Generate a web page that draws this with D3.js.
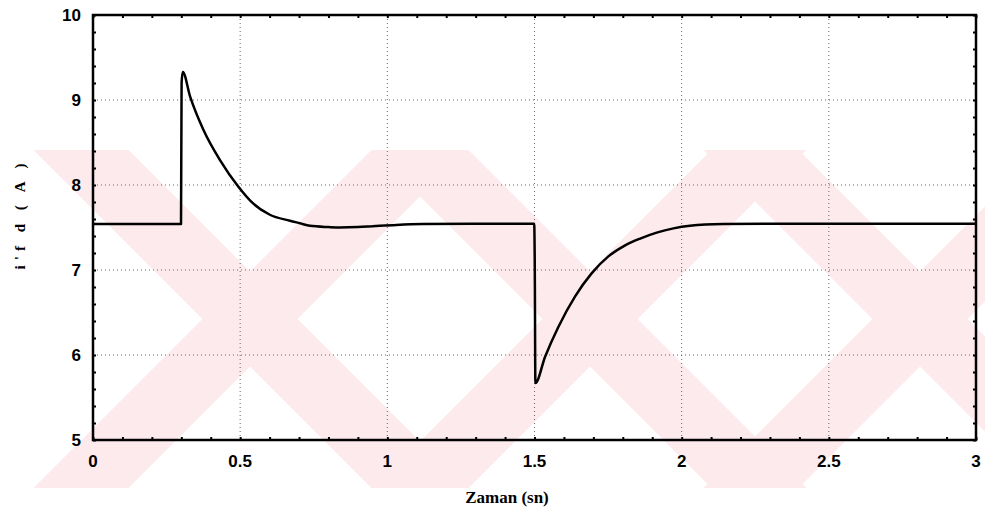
<!DOCTYPE html>
<html>
<head>
<meta charset="utf-8">
<script src="https://cdn.jsdelivr.net/npm/d3@7"></script>
<style>
  html, body { margin: 0; padding: 0; background: #fff; }
  svg { display: block; }
</style>
</head>
<body>
<svg id="chart" width="985" height="515"></svg>
<script>
// Field current response i'fd (A) over time (s)
const timeSec = [0, 0.299, 0.301, 0.305, 0.33, 0.375, 0.432, 0.494, 0.545, 0.601, 0.669, 0.703, 0.737, 0.80, 0.839, 0.90, 0.951, 1.03, 1.12, 1.35, 1.499,
                 1.501, 1.503, 1.536, 1.581, 1.638, 1.694, 1.751, 1.808, 1.859, 1.915, 1.972, 2.028, 2.14, 2.37, 2.7, 3.0];
const currentA = [7.54, 7.54, 9.2, 9.33, 9.04, 8.65, 8.29, 7.98, 7.78, 7.65, 7.58, 7.55, 7.52, 7.505, 7.50, 7.505, 7.515, 7.53, 7.54, 7.545, 7.545,
                  7.0, 5.67, 5.98, 6.33, 6.69, 6.96, 7.16, 7.29, 7.37, 7.44, 7.49, 7.52, 7.54, 7.545, 7.545, 7.545];

const xTicks = [0, 0.5, 1, 1.5, 2, 2.5, 3];
const yTicks = [5, 6, 7, 8, 9, 10];
const xTickLabels = ["0", "0.5", "1", "1.5", "2", "2.5", "3"];
const yTickLabels = ["5", "6", "7", "8", "9", "10"];
const xMinorTicks = d3.range(0, 3.0001, 0.1);
const yMinorTicks = d3.range(5, 10.0001, 0.2);

const svg = d3.select("#chart");
const margin = { left: 93, right: 9, top: 15, bottom: 75 };
const W = 985, H = 515;

const x = d3.scaleLinear().domain([0, 3]).range([margin.left, W - margin.right]);
const y = d3.scaleLinear().domain([5, 10]).range([H - margin.bottom, margin.top]);

// Background watermark: pale diagonal bands forming crossed shapes
const wm = svg.append("g").attr("fill", "#fdeaed");
const bandTop = 150, bandBottom = 488;
const crossCentres = [250, 590, 920];
const half = (bandBottom - bandTop) / 2;
const bw = 95;
crossCentres.forEach(cx => {
  wm.append("polygon").attr("points", [
    [cx - half - bw / 2, bandTop], [cx - half + bw / 2, bandTop],
    [cx + half + bw / 2, bandBottom], [cx + half - bw / 2, bandBottom]
  ].map(p => p.join(",")).join(" "));
  wm.append("polygon").attr("points", [
    [cx + half - bw / 2, bandTop], [cx + half + bw / 2, bandTop],
    [cx - half + bw / 2, bandBottom], [cx - half - bw / 2, bandBottom]
  ].map(p => p.join(",")).join(" "));
});

// Dotted grid at major ticks
const grid = svg.append("g").attr("stroke", "#666").attr("stroke-width", 1).attr("stroke-dasharray", "1,3");
grid.selectAll("line.v").data(xTicks.slice(1, -1)).join("line")
  .attr("x1", d => x(d)).attr("x2", d => x(d))
  .attr("y1", y(10)).attr("y2", y(5));
grid.selectAll("line.h").data(yTicks.slice(1, -1)).join("line")
  .attr("y1", d => y(d)).attr("y2", d => y(d))
  .attr("x1", x(0)).attr("x2", x(3));

// Axes with inward minor tick marks
const tickLen = 3;
const axBottom = svg.append("g").attr("transform", `translate(0,${y(5)})`)
  .call(d3.axisBottom(x).tickValues(xMinorTicks).tickSize(-tickLen).tickFormat(""));
const axTop = svg.append("g").attr("transform", `translate(0,${y(10)})`)
  .call(d3.axisTop(x).tickValues(xMinorTicks).tickSize(-tickLen).tickFormat(""));
const axLeft = svg.append("g").attr("transform", `translate(${x(0)},0)`)
  .call(d3.axisLeft(y).tickValues(yMinorTicks).tickSize(-tickLen).tickFormat(""));
const axRight = svg.append("g").attr("transform", `translate(${x(3)},0)`)
  .call(d3.axisRight(y).tickValues(yMinorTicks).tickSize(-tickLen).tickFormat(""));
[axBottom, axTop, axLeft, axRight].forEach(g => {
  g.select(".domain").remove();
  g.selectAll(".tick line").attr("stroke", "#000").attr("stroke-width", 2);
});

// Tick labels
svg.append("g").selectAll("text").data(xTicks).join("text")
  .attr("x", d => x(d)).attr("y", y(5) + 27)
  .attr("text-anchor", "middle")
  .attr("font-family", "Liberation Sans, Arial, sans-serif")
  .attr("font-size", 17).attr("font-weight", "bold")
  .text((d, i) => xTickLabels[i]);
svg.append("g").selectAll("text").data(yTicks).join("text")
  .attr("x", x(0) - 12).attr("y", d => y(d) + 6)
  .attr("text-anchor", "end")
  .attr("font-family", "Liberation Sans, Arial, sans-serif")
  .attr("font-size", 17).attr("font-weight", "bold")
  .text((d, i) => yTickLabels[i]);

// Frame
svg.append("rect")
  .attr("x", x(0)).attr("y", y(10))
  .attr("width", x(3) - x(0)).attr("height", y(5) - y(10))
  .attr("fill", "none").attr("stroke", "#000").attr("stroke-width", 2.5);

// Current trace
svg.append("path")
  .datum(currentA)
  .attr("d", d3.line().x((d, i) => x(timeSec[i])).y(d => y(d)).curve(d3.curveMonotoneX))
  .attr("fill", "none").attr("stroke", "#000").attr("stroke-width", 2.5)
  .attr("stroke-linejoin", "round");

// Axis titles
svg.append("text")
  .attr("x", 507).attr("y", 503)
  .attr("text-anchor", "middle")
  .attr("font-family", "Liberation Serif, Times New Roman, serif")
  .attr("font-size", 17).attr("font-weight", "bold")
  .text("Zaman (sn)");
svg.append("text")
  .attr("transform", `translate(25,214) rotate(-90)`)
  .attr("text-anchor", "middle")
  .attr("font-family", "Liberation Serif, Times New Roman, serif")
  .attr("font-size", 15).attr("font-weight", "bold")
  .attr("letter-spacing", "5px")
  .text("i'f d ( A )");
</script>
</body>
</html>
